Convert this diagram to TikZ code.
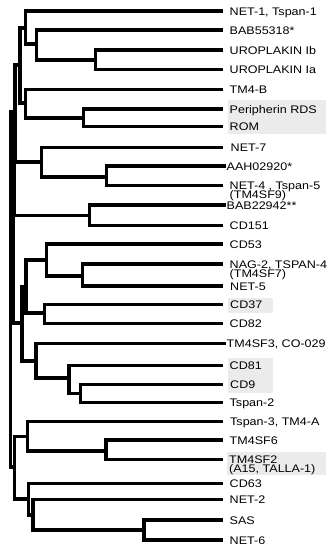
\documentclass[tikz,border=0pt]{standalone}
\usepackage{fontspec}
\setmainfont{Liberation Sans}[FakeStretch=1.14]
\definecolor{hlgray}{HTML}{EBEBEB}
\newcommand\mytwo[2]{\vtop{\baselineskip=9.3pt\lineskiplimit=-20pt\hbox{#1}\hbox{#2}}}
% name, y, line end x, label x, text
\newcommand\myleaf[5]{\coordinate (#1) at (#3,#2);
  \node[lab] (#1t) at (#4,#2) [yshift=-4pt] {#5};}
\newcommand\mykids[3]{\draw[br] (#2) -| (#1) |- (#3);}
\begin{document}
\begin{tikzpicture}[x=1pt,y=-1pt,
  br/.style={line width=3.1pt, line cap=rect, line join=miter},
  lab/.style={anchor=base west, inner sep=0pt, font=\fontsize{11}{9.3}\selectfont},
  hl/.style={fill=hlgray, draw=none}]
\useasboundingbox (0,0) rectangle (333,550);
% highlight boxes
\fill[hl] (227.5,100) rectangle (326,134);
\fill[hl] (227.5,298) rectangle (272.5,313);
\fill[hl] (227.5,357.5) rectangle (272.5,393);
\fill[hl] (226.5,451.5) rectangle (326,474.5);
% leaves
\myleaf{l1}{11}{221.5}{229.5}{NET-1, Tspan-1}
\myleaf{l2}{30}{221.5}{229.5}{BAB55318*}
\myleaf{l3}{50}{221.5}{229.5}{UROPLAKIN Ib}
\myleaf{l4}{69.3}{221.5}{229.5}{UROPLAKIN Ia}
\myleaf{l5}{89.3}{221.5}{229.5}{TM4-B}
\myleaf{l6}{109}{221.5}{229.5}{Peripherin RDS}
\myleaf{l7}{126.7}{221.5}{229.5}{ROM}
\myleaf{l8}{147.7}{221.5}{230.5}{NET-7}
\myleaf{l9}{166}{224.5}{226.5}{AAH02920*}
\myleaf{l10}{185.5}{221.5}{229.5}{\mytwo{NET-4 , Tspan-5}{(TM4SF9)}}
\myleaf{l11}{205}{224.5}{226.5}{BAB22942**}
\myleaf{l12}{225.7}{221.5}{229.5}{CD151}
\myleaf{l13}{244}{221.5}{229.5}{CD53}
\myleaf{l14}{264}{221.5}{229.5}{\mytwo{NAG-2, TSPAN-4}{(TM4SF7)}}
\myleaf{l15}{286}{221.5}{230}{NET-5}
\myleaf{l16}{304.5}{221.5}{230}{CD37}
\myleaf{l17}{323.3}{221.5}{229.5}{CD82}
\myleaf{l18}{343.3}{224.5}{226.5}{TM4SF3, CO-029}
\myleaf{l19}{365.7}{221.5}{229.5}{CD81}
\myleaf{l20}{384.3}{221.5}{230}{CD9}
\myleaf{l21}{402.7}{221.5}{229.5}{Tspan-2}
\myleaf{l22}{421.3}{221.5}{230}{Tspan-3, TM4-A}
\myleaf{l23}{440}{221.5}{229.5}{TM4SF6}
\myleaf{l24}{459.5}{221.5}{229}{\mytwo{TM4SF2}{(A15, TALLA-1)}}
\myleaf{l25}{483.5}{221.5}{229.5}{CD63}
\myleaf{l26}{499.5}{221.5}{229.5}{NET-2}
\myleaf{l27}{520}{221.5}{229.5}{SAS}
\myleaf{l28}{540}{221.5}{229.5}{NET-6}
% internal nodes
\coordinate (C) at (95.7,60);
\coordinate (B) at (36.7,44);
\coordinate (A) at (25.7,28);
\coordinate (E) at (83.3,118);
\coordinate (D) at (25.7,103);
\coordinate (AD) at (20,65);
\coordinate (G) at (106.7,177);
\coordinate (F) at (41.7,162);
\coordinate (H) at (89.3,215.5);
\coordinate (K) at (82.7,276);
\coordinate (J) at (46.7,260);
\coordinate (L) at (44.3,313);
\coordinate (I) at (26,287);
\coordinate (O) at (80.7,393.3);
\coordinate (N) at (69,378);
\coordinate (M) at (36,361);
\coordinate (P) at (22,323);
\coordinate (R) at (106,451);
\coordinate (Q) at (27.3,436.5);
\coordinate (U) at (144,530);
\coordinate (T) at (33,515);
\coordinate (S) at (28.5,499);
\coordinate (X) at (14.5,467);
\coordinate (n1) at (15,112);
\coordinate (n2) at (14.3,112);
\coordinate (n3) at (13.7,112);
\coordinate (root) at (10.5,112);
\mykids{C}{l3}{l4}
\mykids{B}{l2}{C}
\mykids{A}{l1}{B}
\mykids{E}{l6}{l7}
\mykids{D}{l5}{E}
\mykids{AD}{A}{D}
\mykids{G}{l9}{l10}
\mykids{F}{l8}{G}
\mykids{H}{l11}{l12}
\mykids{K}{l14}{l15}
\mykids{J}{l13}{K}
\mykids{L}{l16}{l17}
\mykids{I}{J}{L}
\mykids{O}{l20}{l21}
\mykids{N}{l19}{O}
\mykids{M}{l18}{N}
\mykids{P}{I}{M}
\mykids{R}{l23}{l24}
\mykids{Q}{l22}{R}
\mykids{U}{l27}{l28}
\mykids{T}{l26}{U}
\mykids{S}{l25}{T}
\mykids{X}{Q}{S}
\mykids{n1}{AD}{F}
\mykids{n2}{n1}{H}
\mykids{n3}{n2}{P}
\mykids{root}{n3}{X}
\end{tikzpicture}
\end{document}
